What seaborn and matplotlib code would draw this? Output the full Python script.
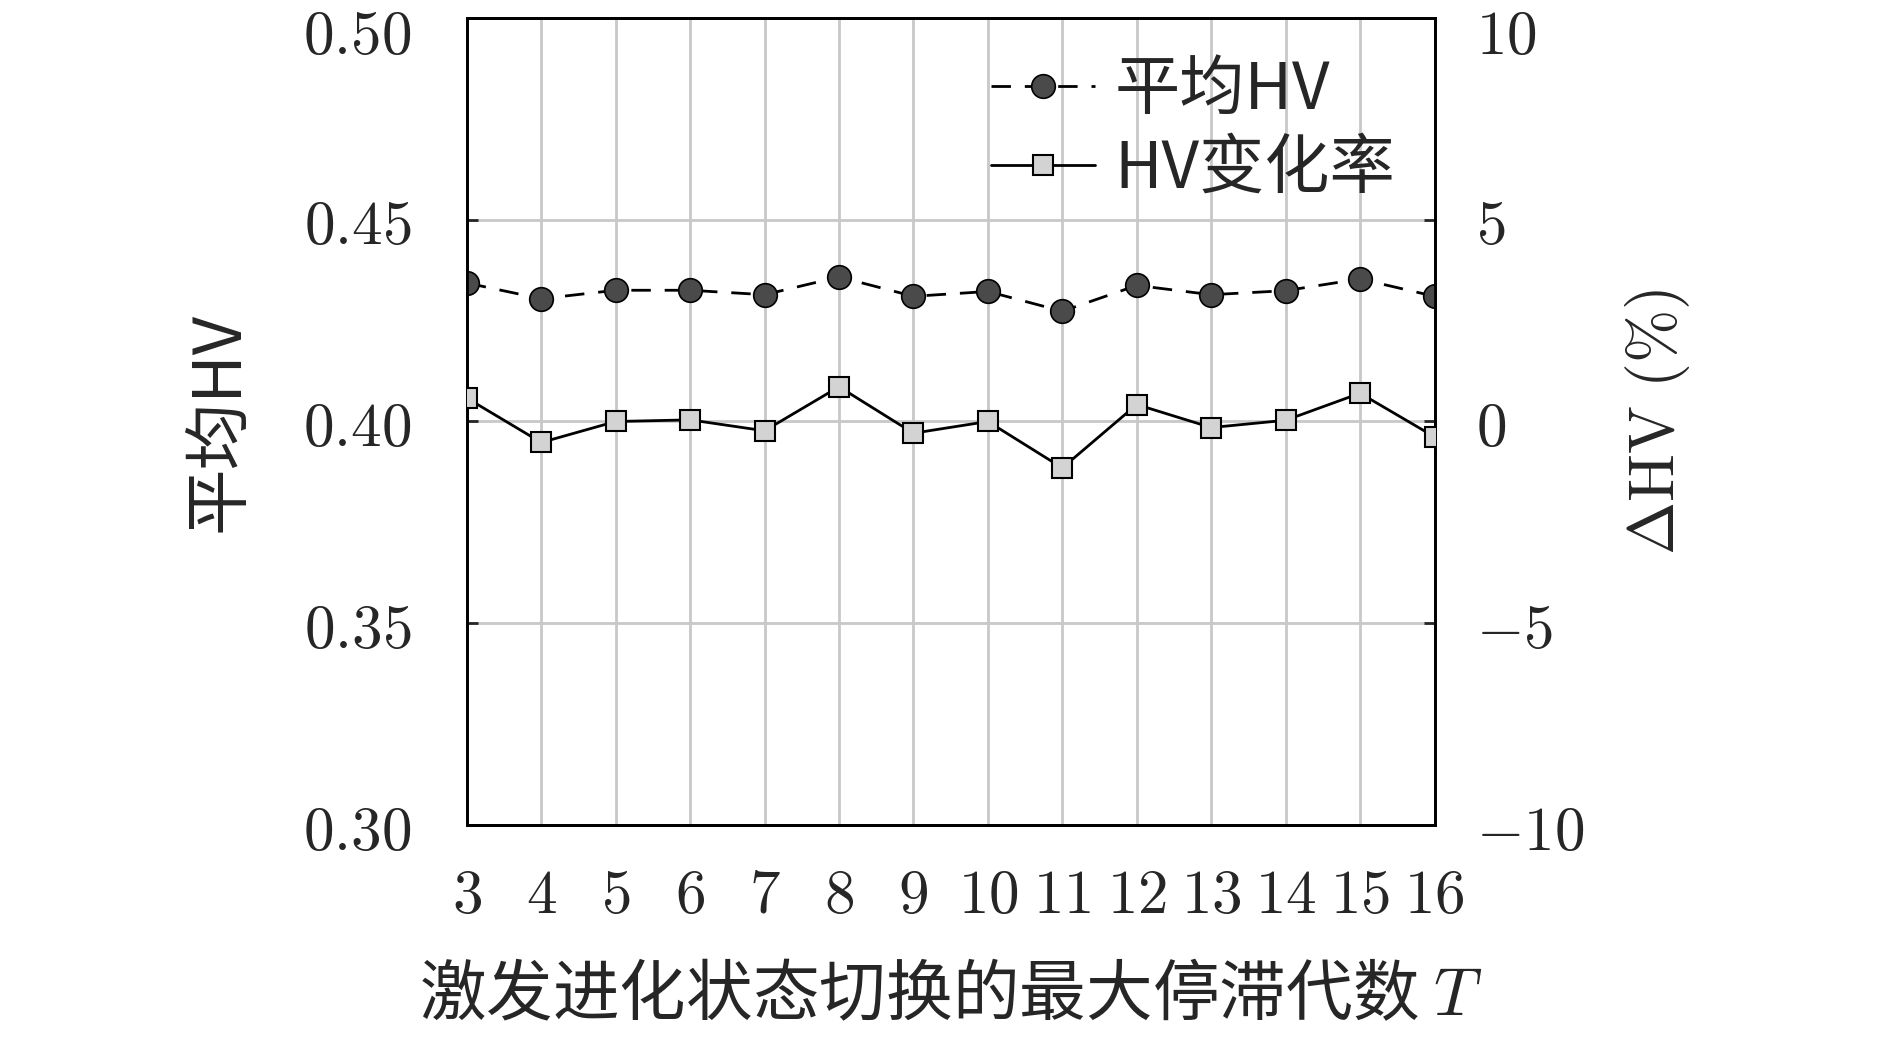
import numpy as np
import pandas as pd
import matplotlib
matplotlib.use("Agg")
import matplotlib.pyplot as plt
import matplotlib.ticker as mticker
import matplotlib.transforms as mtrans
import seaborn as sns

# values
T = [3, 4, 5, 6, 7, 8, 9, 10, 11, 12, 13, 14, 15, 16]
hv_mean = [0.4343, 0.4304, 0.4325, 0.4325, 0.4314, 0.4358, 0.4310,
           0.4322, 0.4273, 0.4337, 0.4314, 0.4324, 0.4353, 0.4310]
hv_rate = [0.58, -0.52, 0.0, 0.04, -0.23, 0.86, -0.29,
           0.0, -1.15, 0.42, -0.15, 0.03, 0.70, -0.38]

left_ticks = [0.30, 0.35, 0.40, 0.45, 0.50]
right_ticks = [-10, -5, 0, 5, 10]

sns.set_theme(style="white")
plt.rcParams["font.family"] = ["Noto Sans CJK SC", "DejaVu Sans"]
plt.rcParams["mathtext.fontset"] = "cm"
plt.rcParams["axes.unicode_minus"] = True

df = pd.DataFrame({"T": T, "mean": hv_mean, "rate": hv_rate})

fig = plt.figure(figsize=(18.9, 10.42), dpi=100)
ax = fig.add_axes([0.247, 0.208, 0.512, 0.775])
ax2 = ax.twinx()

sns.lineplot(data=df, x="T", y="mean", ax=ax, color="black", lw=2,
             linestyle=(0, (7, 5)), marker="o", markersize=17,
             markerfacecolor="#4a4a4a", markeredgecolor="black",
             markeredgewidth=1.2, label="平均HV", legend=False, zorder=3)
sns.lineplot(data=df, x="T", y="rate", ax=ax2, color="black", lw=2,
             marker="s", markersize=15, markerfacecolor="#d3d3d3",
             markeredgecolor="black", markeredgewidth=1.5,
             label="HV变化率", legend=False, zorder=3)

ax.set_xlim(3, 16)
ax.set_ylim(0.30, 0.50)
ax2.set_ylim(-10, 10)
ax.set_xticks(T)
ax.set_yticks(left_ticks)
ax2.set_yticks(right_ticks)
ax.xaxis.set_major_formatter(mticker.FuncFormatter(lambda v, p: f"${v:.0f}$"))
ax.yaxis.set_major_formatter(mticker.FuncFormatter(lambda v, p: f"${v:.2f}$"))
ax2.yaxis.set_major_formatter(mticker.FuncFormatter(lambda v, p: f"${v:.0f}$"))

ax.grid(True, color="#c8c8c8", lw=2)
ax.set_axisbelow(True)
for a in (ax, ax2):
    for s in a.spines.values():
        s.set_color("black")
        s.set_linewidth(2)
ax.tick_params(axis="y", direction="in", length=8, width=2, labelsize=44, pad=40)
ax.tick_params(axis="x", direction="in", length=0, labelsize=44, pad=28)
ax2.tick_params(axis="y", direction="in", length=8, width=2, labelsize=44, pad=30)
for lab in ax2.get_yticklabels():
    lab.set_horizontalalignment("left")

# nudge the top tick labels down a little so they stay inside the figure
shift = mtrans.ScaledTranslation(0, -9 / 72, fig.dpi_scale_trans)
for a in (ax, ax2):
    top_tick = a.yaxis.get_major_ticks()[-1]
    for lab in (top_tick.label1, top_tick.label2):
        lab.set_transform(lab.get_transform() + shift)

ax.set_xlabel("激发进化状态切换的最大停滞代数 $T$", fontsize=48, labelpad=26)
ax.set_ylabel("平均HV", fontsize=48, labelpad=36)
ax2.set_ylabel(r"$\Delta\mathrm{HV}\ (\%)$", fontsize=46, labelpad=28)

h1, l1 = ax.get_legend_handles_labels()
h2, l2 = ax2.get_legend_handles_labels()
ax2.legend(h1 + h2, l1 + l2, loc="upper right", frameon=False, fontsize=47,
           handlelength=1.6, handletextpad=0.3, labelspacing=0.2,
           borderaxespad=0.2)

fig.savefig("out.png", dpi=100, facecolor="white")
